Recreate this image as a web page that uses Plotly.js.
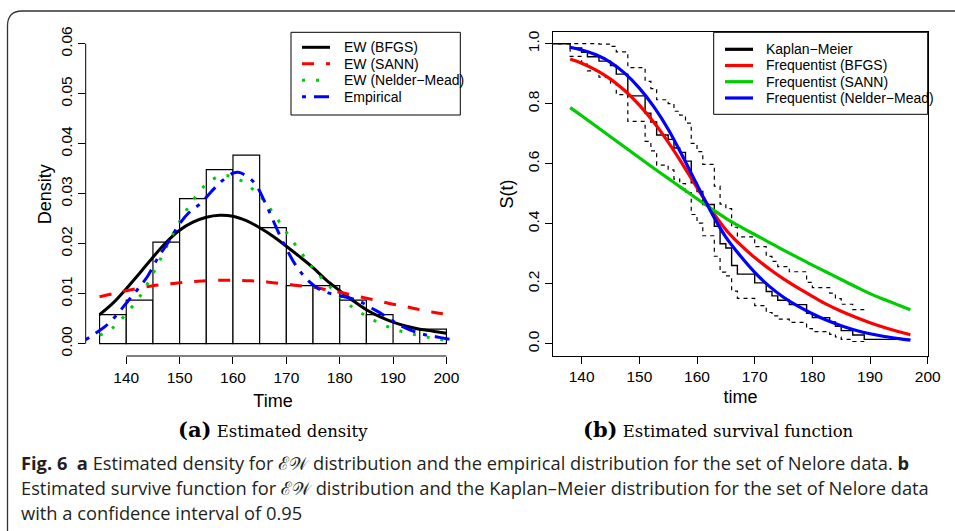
<!DOCTYPE html>
<html><head><meta charset="utf-8">
<script src="https://cdn.plot.ly/plotly-3.0.1.min.js"></script>
<style>html,body{margin:0;padding:0;background:#fff;}#chart{width:955px;height:531px;}</style>
</head><body><div id="chart"></div>
<script>
// ---------- (a) density panel ----------
const histBinMid = [137.5,142.5,147.5,152.5,157.5,162.5,167.5,172.5,177.5,182.5,187.5,192.5,197.5];
const histDensity = [0.0058,0.0087,0.0203,0.0290,0.0348,0.0377,0.0232,0.0116,0.0116,0.0087,0.0058,0,0.0029];
const densTime = [135,137.5,140,142.5,145,147.5,150,152.5,155,157.5,160,162.5,165,167.5,170,172.5,175,177.5,180,182.5,185,187.5,190,192.5,195,197.5,200];
const ewBFGS = [0.0058,0.0081,0.0110,0.0141,0.0173,0.0203,0.0227,0.0243,0.0253,0.0257,0.0255,0.0246,0.0232,0.0215,0.0195,0.0174,0.0152,0.0127,0.0106,0.0086,0.0068,0.0054,0.0043,0.0035,0.0029,0.0025,0.0021];
const ewSANN = [0.0094,0.0100,0.0106,0.0111,0.0116,0.0119,0.0122,0.0124,0.0126,0.0127,0.0127,0.0126,0.0125,0.0122,0.0119,0.0116,0.0113,0.0108,0.0103,0.0097,0.0091,0.0085,0.0079,0.0074,0.0068,0.0063,0.0059];
const ewNelderMead = [0.0017,0.0032,0.0060,0.0094,0.0140,0.0193,0.0244,0.0287,0.0319,0.0335,0.0334,0.0319,0.0296,0.0262,0.0223,0.0186,0.0151,0.0121,0.0095,0.0072,0.0055,0.0041,0.0030,0.0022,0.0016,0.0011,0.0007];
const empTime = [132.4,134,136,138,140,142,144,146,148,150,152,154,156,158,160,161,162,164,166,168,170,172,174,176,178,180,182,184,186,188,190,192,194,196,198,200,201.5];
const empDensity = [0.0008,0.0019,0.0034,0.0055,0.0081,0.0107,0.0135,0.0173,0.0205,0.0240,0.0265,0.0281,0.0305,0.0326,0.0341,0.0343,0.0339,0.0322,0.0283,0.0235,0.0190,0.0153,0.0127,0.0110,0.0101,0.0096,0.0091,0.0083,0.0071,0.0059,0.0045,0.0033,0.0024,0.0018,0.0014,0.0010,0.0008];
const densXTicks = [140,150,160,170,180,190,200];
const densYTicks = [0,0.01,0.02,0.03,0.04,0.05,0.06];
const densYLabels = ["0.00","0.01","0.02","0.03","0.04","0.05","0.06"];

// ---------- (b) survival panel ----------
const kmTime = [0,138,140,141,143,145,146,148,151,152,153,155,156,157,158,159,160,161,163,164,165,166,167,170,172,173,174,176,179,180,183,184,185,187,189,197];
const kmSurv = [1,0.9855,0.9710,0.9565,0.9420,0.9275,0.8986,0.8261,0.7681,0.7391,0.6957,0.6812,0.6522,0.6377,0.6087,0.5362,0.5072,0.4638,0.3913,0.3333,0.3188,0.2609,0.2319,0.2029,0.1739,0.1594,0.1449,0.1304,0.1014,0.0870,0.0725,0.0580,0.0435,0.0290,0.0145,0.0145];
const ciTime = [0,138,140,141,143,145,146,148,151,152,153,155,156,157,158,159,160,161,163,164,165,166,167,170,172,173,174,176,179,180,183,184,185,187,189];
const ciUpper = [1,1,1,1,0.9988,0.9908,0.9727,0.9205,0.8745,0.8504,0.8132,0.8005,0.7748,0.7618,0.7355,0.6678,0.6401,0.5977,0.5252,0.4654,0.4502,0.3881,0.3563,0.3239,0.2909,0.2741,0.2571,0.2399,0.2047,0.1868,0.1685,0.1501,0.1315,0.1136,0.1136];
const ciLower = [1,0.9577,0.9322,0.9096,0.8885,0.8683,0.8301,0.7413,0.6747,0.6425,0.5951,0.5796,0.5489,0.5338,0.5038,0.4306,0.4020,0.3598,0.2915,0.2388,0.2258,0.1754,0.1509,0.1271,0.1040,0.0927,0.0817,0.0709,0.0503,0.0405,0.0312,0.0224,0.0144,0.0074,0.0074];
const survTime = [138,140,142.5,145,147.5,150,152.5,155,157.5,160,162.5,165,167.5,170,172.5,175,177.5,180,182.5,185,187.5,190,192.5,195,197];
const survBFGS = [0.949,0.935,0.912,0.882,0.843,0.795,0.738,0.672,0.598,0.520,0.445,0.380,0.330,0.287,0.250,0.216,0.186,0.158,0.131,0.108,0.088,0.070,0.054,0.040,0.030];
const survSANN = [0.787,0.760,0.725,0.690,0.655,0.620,0.585,0.551,0.517,0.483,0.450,0.418,0.390,0.364,0.338,0.312,0.287,0.262,0.238,0.214,0.190,0.167,0.147,0.128,0.113];
const survNelderMead = [0.988,0.979,0.963,0.938,0.901,0.852,0.790,0.715,0.625,0.530,0.437,0.355,0.293,0.238,0.192,0.155,0.125,0.100,0.078,0.060,0.045,0.033,0.024,0.017,0.012];
const survXTicks = [140,150,160,170,180,190,200];
const survYTicks = [0,0.2,0.4,0.6,0.8,1.0];
const survYLabels = ["0.0","0.2","0.4","0.6","0.8","1.0"];

const legendA = ["EW (BFGS)","EW (SANN)","EW (Nelder\u2212Mead)","Empirical"];
const legendB = ["Kaplan\u2212Meier","Frequentist (BFGS)","Frequentist (SANN)","Frequentist (Nelder\u2212Mead)"];

// ---------- helpers (pixel -> paper) ----------
const W = 955, H = 531;
const PX = p => p / W;
const PY = p => 1 - p / H;
const SANS = "Liberation Sans, Arial, sans-serif";

const styleA = [
  {color:"#000000", width:3, dash:"solid"},
  {color:"#ff0000", width:3, dash:"12px,12px"},
  {color:"#00cd00", width:3, dash:"3px,11px"},
  {color:"#0000ff", width:3, dash:"4px,8px,15px,8px"}
];
const styleB = [
  {color:"#000000", width:3, dash:"solid"},
  {color:"#ff0000", width:3, dash:"solid"},
  {color:"#00cd00", width:3, dash:"solid"},
  {color:"#0000ff", width:3, dash:"solid"}
];

const traces = [
  {type:"bar", x:histBinMid, y:histDensity, width:5, xaxis:"x", yaxis:"y",
   marker:{color:"#ffffff", line:{color:"#000000", width:1.2}}, showlegend:false, hoverinfo:"skip"},
  {type:"scatter", mode:"lines", x:densTime, y:ewBFGS, xaxis:"x", yaxis:"y", line:{color:styleA[0].color, width:3, shape:"spline"}, showlegend:false},
  {type:"scatter", mode:"lines", x:densTime, y:ewSANN, xaxis:"x", yaxis:"y", line:{color:styleA[1].color, width:3, dash:styleA[1].dash, shape:"spline"}, showlegend:false},
  {type:"scatter", mode:"lines", x:densTime, y:ewNelderMead, xaxis:"x", yaxis:"y", line:{color:styleA[2].color, width:3, dash:styleA[2].dash, shape:"spline"}, showlegend:false},
  {type:"scatter", mode:"lines", x:empTime, y:empDensity, xaxis:"x", yaxis:"y", line:{color:styleA[3].color, width:3, dash:styleA[3].dash, shape:"spline"}, showlegend:false},

  {type:"scatter", mode:"lines", x:ciTime, y:ciUpper, xaxis:"x2", yaxis:"y2", line:{color:"#000", width:1.2, dash:"4px,4px", shape:"hv"}, showlegend:false},
  {type:"scatter", mode:"lines", x:ciTime, y:ciLower, xaxis:"x2", yaxis:"y2", line:{color:"#000", width:1.2, dash:"4px,4px", shape:"hv"}, showlegend:false},
  {type:"scatter", mode:"lines", x:kmTime, y:kmSurv, xaxis:"x2", yaxis:"y2", line:{color:"#000", width:1.4, shape:"hv"}, showlegend:false},
  {type:"scatter", mode:"lines", x:survTime, y:survBFGS, xaxis:"x2", yaxis:"y2", line:{color:styleB[1].color, width:3.2, shape:"spline"}, showlegend:false},
  {type:"scatter", mode:"lines", x:survTime, y:survSANN, xaxis:"x2", yaxis:"y2", line:{color:styleB[2].color, width:3.2, shape:"spline"}, showlegend:false},
  {type:"scatter", mode:"lines", x:survTime, y:survNelderMead, xaxis:"x2", yaxis:"y2", line:{color:styleB[3].color, width:3.2, shape:"spline"}, showlegend:false}
];

// ---------- shapes ----------
const shapes = [];
shapes.push({type:"path", xref:"paper", yref:"paper", layer:"above",
  path:`M ${PX(7.5)},${PY(531)} L ${PX(7.5)},${PY(26)} Q ${PX(7.5)},${PY(11)} ${PX(22)},${PY(11)} L ${PX(955)},${PY(11)}`,
  line:{color:"#333333", width:1.3}});
shapes.push({type:"line", xref:"x", yref:"paper", x0:140, x1:200, y0:PY(356), y1:PY(356), line:{color:"#000", width:1}});
shapes.push({type:"line", xref:"paper", yref:"y", x0:PX(85.7), x1:PX(85.7), y0:0, y1:0.06, line:{color:"#000", width:1}});

function legendBox(x0,y0,x1,y1){
  shapes.push({type:"rect", xref:"paper", yref:"paper", layer:"above", x0:PX(x0), x1:PX(x1), y0:PY(y1), y1:PY(y0),
    fillcolor:"#ffffff", line:{color:"#000", width:1}});
}
legendBox(291,32.3,460.3,115);
legendBox(713.7,32.3,927.7,114.3);

const annotations = [];
const rowsA = [47.3,63.7,80.2,96.7];
const rowsB = [49.3,65.5,81.7,98.0];
legendA.forEach((t,i)=>{
  shapes.push({type:"line", xref:"paper", yref:"paper", layer:"above", x0:PX(302), x1:PX(330), y0:PY(rowsA[i]), y1:PY(rowsA[i]),
    line:{color:styleA[i].color, width:3, dash:styleA[i].dash}});
  annotations.push({xref:"paper", yref:"paper", x:PX(341.5), y:PY(rowsA[i]), xanchor:"left", yanchor:"middle", showarrow:false,
    text:t, font:{family:SANS, size:14, color:"#000"}});
});
legendB.forEach((t,i)=>{
  shapes.push({type:"line", xref:"paper", yref:"paper", layer:"above", x0:PX(725), x1:PX(753), y0:PY(rowsB[i]), y1:PY(rowsB[i]),
    line:{color:styleB[i].color, width:3.2, dash:styleB[i].dash}});
  annotations.push({xref:"paper", yref:"paper", x:PX(764), y:PY(rowsB[i]), xanchor:"left", yanchor:"middle", showarrow:false,
    text:t, font:{family:SANS, size:14, color:"#000"}});
});

// sub-captions
const SERIF = "DejaVu Serif, Liberation Serif, serif";
annotations.push({xref:"paper", yref:"paper", x:PX(273), y:PY(429), xanchor:"center", yanchor:"middle", showarrow:false,
  text:'<b><span style="font-size:21px">(a)</span></b> Estimated density', font:{family:SERIF, size:16.5, color:"#000"}});
annotations.push({xref:"paper", yref:"paper", x:PX(718), y:PY(429), xanchor:"center", yanchor:"middle", showarrow:false,
  text:'<b><span style="font-size:21px">(b)</span></b> Estimated survival function', font:{family:SERIF, size:16.5, color:"#000"}});

// figure caption
const CAP = "Open Sans, Noto Sans, sans-serif";
const capLines = [
  "<b>Fig. 6</b>\u00a0\u00a0<b>a</b> Estimated density for \u2130\ud835\udcb2 distribution and the empirical distribution for the set of Nelore data. <b>b</b>",
  "Estimated survive function for \u2130\ud835\udcb2 distribution and the Kaplan\u2013Meier distribution for the set of Nelore data",
  "with a confidence interval of 0.95"
];
const capY = [462, 487, 512];
capLines.forEach((t,i)=>{
  annotations.push({xref:"paper", yref:"paper", x:PX(19), y:PY(capY[i]), xanchor:"left", yanchor:"middle", showarrow:false,
    text:t, font:{family:CAP, size:18.3, color:"#231f20"}});
});

const tickFont = {family:SANS, size:15.5, color:"#000"};
const titleFont = {family:SANS, size:18, color:"#000"};

const layout = {
  width:W, height:H, margin:{l:0,r:0,t:0,b:0}, paper_bgcolor:"#fff", plot_bgcolor:"rgba(0,0,0,0)",
  showlegend:false, bargap:0,
  xaxis:{domain:[PX(85.7),PX(460.3)], range:[132.4,202.6], anchor:"y", tickvals:densXTicks, ticktext:densXTicks.map(String),
    ticks:"outside", ticklen:7, tickwidth:1, tickcolor:"#000", showline:false, showgrid:false, zeroline:false,
    tickfont:tickFont, title:{text:"Time", font:titleFont, standoff:9}},
  yaxis:{domain:[PY(356),PY(32.3)], range:[-0.00246,0.06228], anchor:"x", tickvals:densYTicks, ticktext:densYLabels, tickangle:-90,
    ticks:"outside", ticklen:7, tickwidth:1, tickcolor:"#000", showline:false, showgrid:false, zeroline:false,
    tickfont:tickFont, title:{text:"Density", font:titleFont, standoff:1}},
  xaxis2:{domain:[PX(553.3),PX(927.7)], range:[135.08,200], anchor:"y2", tickvals:survXTicks, ticktext:survXTicks.map(String),
    ticks:"outside", ticklen:7, tickwidth:1, tickcolor:"#000", showline:true, mirror:true, linecolor:"#000", linewidth:1,
    showgrid:false, zeroline:false, tickfont:tickFont, title:{text:"time", font:titleFont, standoff:6}},
  yaxis2:{domain:[PY(355.7),PY(32.3)], range:[-0.04,1.038], anchor:"x2", tickvals:survYTicks, ticktext:survYLabels, tickangle:-90,
    ticks:"outside", ticklen:7, tickwidth:1, tickcolor:"#000", showline:true, mirror:true, linecolor:"#000", linewidth:1,
    showgrid:false, zeroline:false, tickfont:tickFont, title:{text:"S(t)", font:titleFont, standoff:6}},
  shapes:shapes, annotations:annotations
};

Plotly.newPlot("chart", traces, layout, {displayModeBar:false, staticPlot:true});
</script>
</body></html>
